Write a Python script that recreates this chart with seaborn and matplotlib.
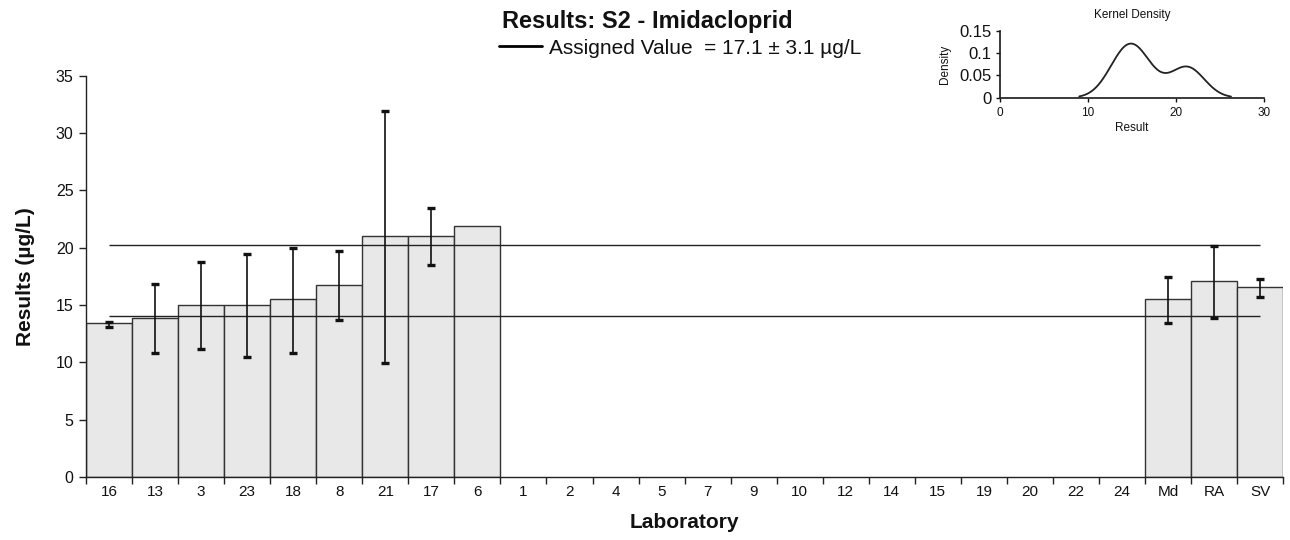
import numpy as np
import pandas as pd
import matplotlib
matplotlib.use("Agg")
import matplotlib.pyplot as plt
from matplotlib.ticker import FixedLocator, FuncFormatter
import seaborn as sns

# Laboratory codes in plotted order, with reported results and expanded uncertainties
labs = ["16", "13", "3", "23", "18", "8", "21", "17", "6", "1", "2", "4", "5", "7",
        "9", "10", "12", "14", "15", "19", "20", "22", "24", "Md", "RA", "SV"]
results = [13.4, 13.9, 15.0, 15.0, 15.5, 16.7, 21.0, 21.0, 21.9] + [np.nan] * 14 + [15.5, 17.1, 16.6]
uncert = [0.2, 3.0, 3.8, 4.5, 4.6, 3.0, 11.0, 2.5, np.nan] + [np.nan] * 14 + [2.0, 3.1, 0.8]
err_centre = [13.3, 13.85, 14.95, 14.95, 15.4, 16.7, 20.9, 20.95, np.nan] + [np.nan] * 14 + [15.4, 17.0, 16.5]

assigned = 17.1
assigned_u = 3.1

df = pd.DataFrame({"lab": labs, "result": results, "u": uncert, "centre": err_centre})
n_lab_results = 9
kde_values = df["result"].iloc[:n_lab_results].to_numpy()

sns.set_theme(style="white")
plt.rcParams["font.family"] = ["Liberation Sans", "DejaVu Sans"]
for key in ["text.color", "axes.labelcolor", "xtick.color", "ytick.color"]:
    plt.rcParams[key] = "#111111"

fig = plt.figure(figsize=(12.9, 5.4), dpi=100)
ax = fig.add_axes([0.0667, 0.1167, 0.928, 0.7433])

sns.barplot(data=df, x="lab", y="result", order=labs, width=1.0,
            color="#e8e8e8", edgecolor="#333333", linewidth=1.0,
            saturation=1, errorbar=None, ax=ax)

pos = np.arange(len(labs))
mask = df["u"].notna().to_numpy()
ax.errorbar(pos[mask], df["centre"][mask], yerr=df["u"][mask], fmt="none",
            ecolor="#111111", elinewidth=1.2, capsize=3.0, capthick=2.4, zorder=4)

# Assigned value band limits
ax.hlines([assigned - assigned_u, assigned + assigned_u], 0, len(labs) - 1,
          color="#222222", linewidth=1.0, zorder=3)

ax.set_xlim(-0.5, len(labs) - 0.5)
ax.set_ylim(0, 35)
ax.set_yticks(np.arange(0, 36, 5))
ax.xaxis.set_minor_locator(FixedLocator(np.arange(-0.5, len(labs), 1.0)))
ax.tick_params(axis="x", which="major", length=0, pad=6, labelsize=11)
ax.tick_params(axis="x", which="minor", length=5, width=1, color="#222222", direction="out", bottom=True)
ax.tick_params(axis="y", length=5, width=1, color="#222222", direction="out", left=True, labelsize=11.5, pad=4)
for s in ["top", "right"]:
    ax.spines[s].set_visible(False)
for s in ["left", "bottom"]:
    ax.spines[s].set_color("#222222")
    ax.spines[s].set_linewidth(1.0)

ax.set_xlabel("Laboratory", fontsize=15, fontweight="bold", labelpad=10)
ax.set_ylabel("Results (µg/L)", fontsize=15, fontweight="bold", labelpad=15)

fig.text(0.502, 0.96, "Results: S2 - Imidacloprid", ha="center", va="center",
         fontsize=17, fontweight="bold")
legend_line = plt.Line2D([], [], color="black", linewidth=2)
fig.legend([legend_line], [f"Assigned Value  = {assigned} ± {assigned_u} µg/L"],
           loc="center", bbox_to_anchor=(0.527, 0.911), frameon=False,
           fontsize=15, handlelength=2.1, handletextpad=0.3)

# Kernel density inset of the laboratory results
ins = fig.add_axes([0.775, 0.819, 0.2047, 0.124])
sns.kdeplot(x=kde_values, bw_method=0.57, cut=2.3, color="#222222", linewidth=1.3, ax=ins)
ins.set_xlim(0, 30)
ins.set_ylim(0, 0.15)
ins.set_xticks([0, 10, 20, 30])
ins.set_yticks([0, 0.05, 0.1, 0.15])
ins.yaxis.set_major_formatter(FuncFormatter(lambda v, p: f"{v:g}"))
ins.tick_params(axis="x", length=3, width=1, direction="out", bottom=True, labelsize=8.5, pad=4)
ins.tick_params(axis="y", length=3, width=1, direction="out", left=True, labelsize=12, pad=3)
for s in ["top", "right"]:
    ins.spines[s].set_visible(False)
for s in ["left", "bottom"]:
    ins.spines[s].set_color("#222222")
ins.patch.set_alpha(0)
ins.set_title("Kernel Density", fontsize=8.5, pad=9)
ins.set_xlabel("Result", fontsize=8.5, labelpad=2)
ins.set_ylabel("Density", fontsize=8.5, labelpad=6)

fig.savefig("out.png", dpi=100)
